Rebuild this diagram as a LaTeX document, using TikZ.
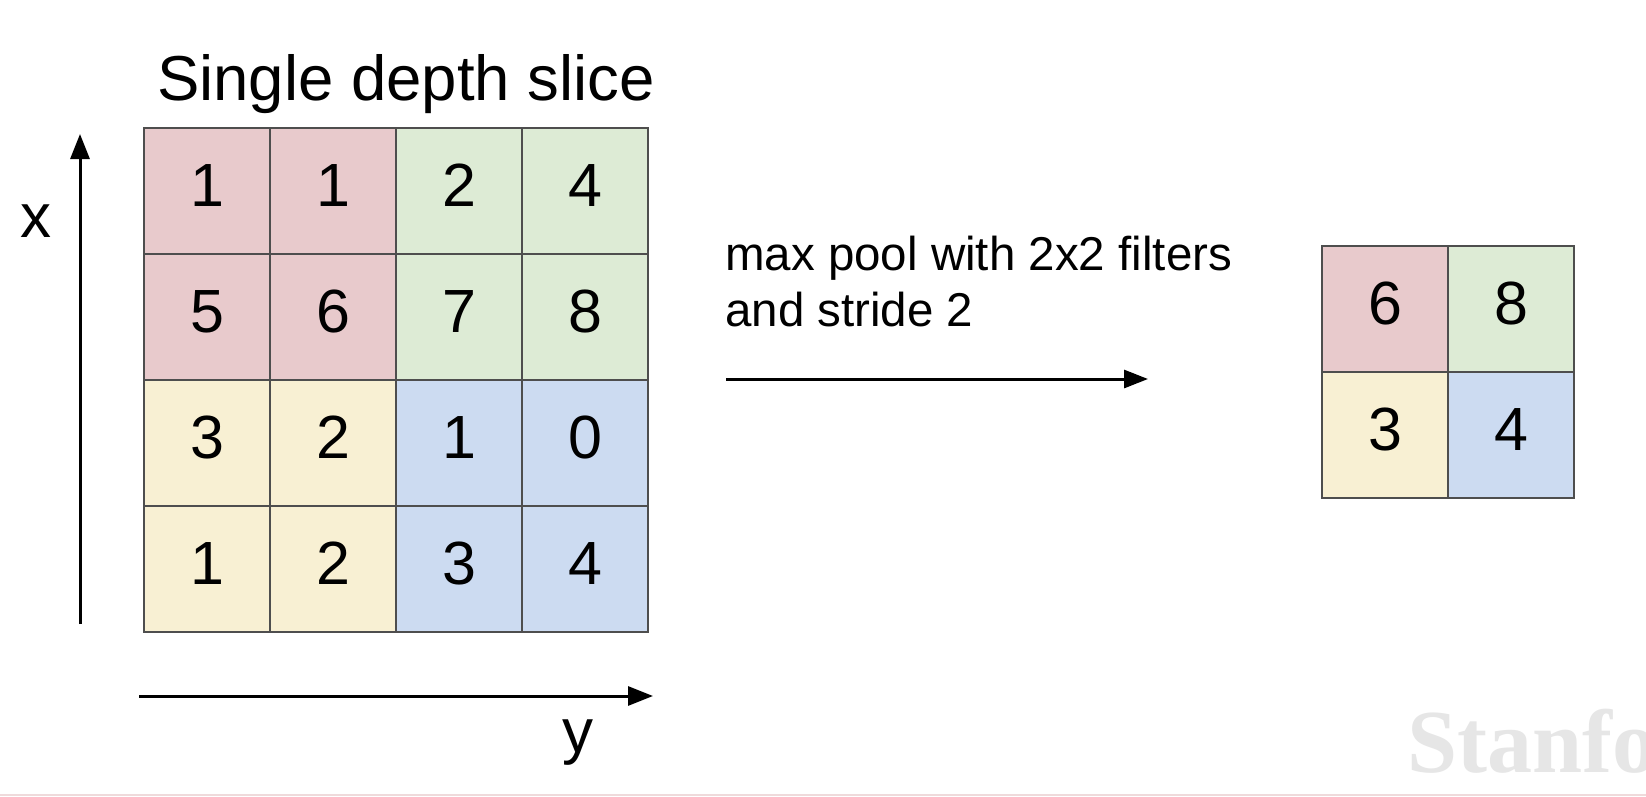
\documentclass[tikz,border=0pt]{standalone}
\usepackage{fontspec}
\setmainfont{Liberation Sans}
\newfontfamily\wmfont{Liberation Serif}
\usetikzlibrary{arrows.meta}
\definecolor{cpink}{HTML}{E8CACC}
\definecolor{cgreen}{HTML}{DDEBD5}
\definecolor{cyellow}{HTML}{F8F0D3}
\definecolor{cblue}{HTML}{CCDBF1}
\definecolor{cborder}{HTML}{4E4E4E}
\definecolor{wm}{HTML}{E6E6E6}
\tikzset{
  cell/.style={draw=cborder, line width=2pt, minimum width=126pt, minimum height=126pt,
    inner sep=0pt, outer sep=0pt, anchor=north west, text height=44pt, text depth=13pt,
    font=\fontsize{61}{70}\selectfont},
  axis/.style={line width=3pt, -{Triangle[length=25pt,width=19pt]}},
  lbl/.style={inner sep=0pt, font=\fontsize{62}{70}\selectfont},
  midtext/.style={inner sep=0pt, anchor=base west, font=\fontsize{47.5}{55}\selectfont}
}
\begin{document}
\begin{tikzpicture}[x=1pt,y=-1pt]
\useasboundingbox (0,0) rectangle (1646,796);
\fill[white] (0,0) rectangle (1646,796);
% title
\node[inner sep=0pt, anchor=base west, font=\fontsize{63.5}{70}\selectfont] (title) at (157,100) {Single depth slice};
% big grid
\foreach \r/\c/\v/\col in {1/1/1/cpink,1/2/1/cpink,1/3/2/cgreen,1/4/4/cgreen,
  2/1/5/cpink,2/2/6/cpink,2/3/7/cgreen,2/4/8/cgreen,
  3/1/3/cyellow,3/2/2/cyellow,3/3/1/cblue,3/4/0/cblue,
  4/1/1/cyellow,4/2/2/cyellow,4/3/3/cblue,4/4/4/cblue}{
  \node[cell, fill=\col] (c\r\c) at ({144+126*(\c-1)},{128+126*(\r-1)}) {\v};
}
% axes
\coordinate (xa0) at (80,624);
\coordinate (xa1) at (80,134);
\draw[axis] (xa0) -- (xa1);
\node[lbl, anchor=base] (xl) at (36,237) {x};
\coordinate (ya0) at (139,696);
\coordinate (ya1) at (653,696);
\draw[axis] (ya0) -- (ya1);
\node[lbl, anchor=base] (yl) at (578,752) {y};
% middle text and arrow
\node[midtext] (t1) at (725,270) {max pool with 2x2 filters};
\node[midtext] (t2) at (725,326) {and stride 2};
\coordinate (m0) at (726,379);
\coordinate (m1) at (1148,379);
\draw[line width=3pt, -{Triangle[length=24pt,width=18pt]}] (m0) -- (m1);
% pooled grid
\foreach \r/\c/\v/\col in {1/1/6/cpink,1/2/8/cgreen,2/1/3/cyellow,2/2/4/cblue}{
  \node[cell, fill=\col] (p\r\c) at ({1322+126*(\c-1)},{246+126*(\r-1)}) {\v};
}
% watermark
\begin{scope}
\clip (0,0) rectangle (1646,796);
\node[inner sep=0pt, anchor=base west, text=wm, font=\wmfont\bfseries\fontsize{90}{100}\selectfont] (wmk) at (1407,772) {Stanford};
\end{scope}
\draw[line width=2pt, color=cpink!70] (0,795) -- (1646,795);
\end{tikzpicture}
\end{document}
